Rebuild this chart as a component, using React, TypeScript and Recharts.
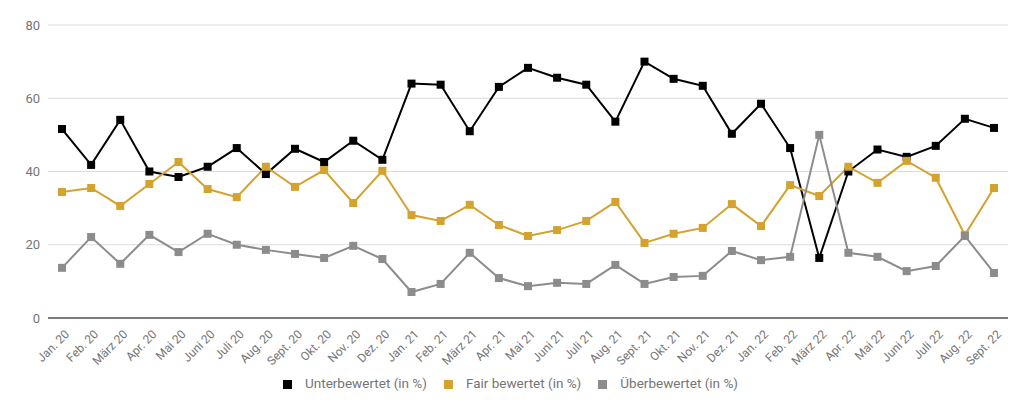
import { LineChart, Line, XAxis, YAxis, CartesianGrid, Legend } from 'recharts';

const months = [
  'Jan. 20', 'Feb. 20', 'März 20', 'Apr. 20', 'Mai 20', 'Juni 20', 'Juli 20', 'Aug. 20', 'Sept. 20', 'Okt. 20', 'Nov. 20', 'Dez. 20',
  'Jan. 21', 'Feb. 21', 'März 21', 'Apr. 21', 'Mai 21', 'Juni 21', 'Juli 21', 'Aug. 21', 'Sept. 21', 'Okt. 21', 'Nov. 21', 'Dez. 21',
  'Jan. 22', 'Feb. 22', 'März 22', 'Apr. 22', 'Mai 22', 'Juni 22', 'Juli 22', 'Aug. 22', 'Sept. 22',
];

const unterbewertet = [
  51.6, 41.8, 54.1, 40, 38.5, 41.3, 46.4, 39.3, 46.2, 42.6, 48.4, 43.2,
  64, 63.7, 51, 63.1, 68.3, 65.6, 63.7, 53.6, 70, 65.3, 63.4, 50.3,
  58.5, 46.4, 16.4, 40, 46, 44, 47, 54.4, 51.9,
];

const fairBewertet = [
  34.4, 35.5, 30.6, 36.6, 42.6, 35.2, 33, 41.3, 35.8, 40.4, 31.4, 40.2,
  28.1, 26.5, 30.9, 25.4, 22.4, 24, 26.5, 31.7, 20.5, 23, 24.6, 31.1,
  25.1, 36.3, 33.3, 41.3, 36.9, 42.9, 38.3, 22.7, 35.5,
];

const ueberbewertet = [
  13.7, 22.1, 14.8, 22.7, 18, 23, 20, 18.6, 17.5, 16.4, 19.7, 16.1,
  7.1, 9.3, 17.8, 10.9, 8.7, 9.6, 9.3, 14.5, 9.3, 11.2, 11.5, 18.3,
  15.8, 16.7, 50, 17.8, 16.7, 12.8, 14.2, 22.4, 12.3,
];

const seriesNames = ['Unterbewertet (in %)', 'Fair bewertet (in %)', 'Überbewertet (in %)'];
const yTicks = [0, 20, 40, 60, 80];

const data = months.map((m, i) => ({
  month: m,
  unter: unterbewertet[i],
  fair: fairBewertet[i],
  ueber: ueberbewertet[i],
}));

const FONT = 'Roboto, "Noto Sans", sans-serif';
const TEXT = '#757575';

function squareDot(color: string) {
  return (props: any) => {
    const { cx, cy, index } = props;
    if (cx == null || cy == null) return <g key={index} />;
    return <rect key={index} x={cx - 4} y={cy - 4} width={8} height={8} fill={color} />;
  };
}

function MonthTick({ x, y, payload }: any) {
  return (
    <g transform={`translate(${x + 5},${y + 6})`}>
      <text textAnchor="end" dy="0.35em" transform="rotate(-45)" fill={TEXT} fontSize={12} fontFamily={FONT}>
        {payload.value}
      </text>
    </g>
  );
}

export default function App() {
  return (
    <div style={{ position: 'absolute', left: 0, top: 0, background: '#fff' }}>
      <LineChart width={1024} height={409} data={data} margin={{ top: 25, right: 16, left: 0, bottom: 16 }}>
        <CartesianGrid vertical={false} stroke="#dcdcdc" />
        <XAxis
          dataKey="month"
          interval={0}
          height={55}
          padding={{ left: 14, right: 14 }}
          tickLine={false}
          axisLine={{ stroke: '#555', strokeWidth: 1.5 }}
          tick={<MonthTick />}
        />
        <YAxis
          width={48}
          domain={[0, 80]}
          ticks={yTicks}
          axisLine={false}
          tickLine={false}
          tick={{ fill: TEXT, fontSize: 13, fontFamily: FONT }}
        />
        <Legend
          verticalAlign="bottom"
          align="center"
          iconType="square"
          iconSize={9}
          itemSorter={(item: any) => seriesNames.indexOf(item.value)}
          wrapperStyle={{ fontFamily: FONT, fontSize: 13.5, lineHeight: '20px', height: 20, paddingLeft: 30, boxSizing: 'border-box' }}
          formatter={(v) => <span style={{ color: TEXT, marginRight: 7, marginLeft: 9 }}>{v}</span>}
        />
        <Line name={seriesNames[0]} dataKey="unter" stroke="#000000" strokeWidth={2} dot={squareDot('#000000')} activeDot={false} isAnimationActive={false} />
        <Line name={seriesNames[1]} dataKey="fair" stroke="#d4a22e" strokeWidth={2} dot={squareDot('#d4a22e')} activeDot={false} isAnimationActive={false} />
        <Line name={seriesNames[2]} dataKey="ueber" stroke="#8c8c8c" strokeWidth={2} dot={squareDot('#8c8c8c')} activeDot={false} isAnimationActive={false} />
      </LineChart>
    </div>
  );
}
